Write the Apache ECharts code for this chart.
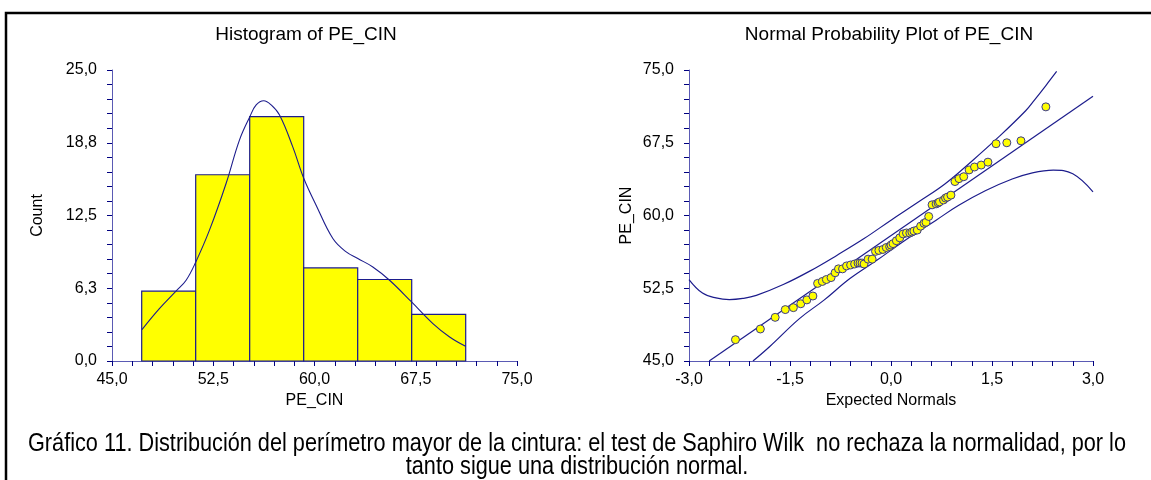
<!DOCTYPE html>
<html><head><meta charset="utf-8">
<script src="https://cdn.jsdelivr.net/npm/echarts@6/dist/echarts.min.js"></script>
<style>html,body{margin:0;padding:0;background:#fff}#c{width:1151px;height:480px}</style>
</head><body><div id="c"></div>
<script>
// ---- Histogram data ----
const binStarts = [47.2, 51.2, 55.2, 59.2, 63.2, 67.2];
const binEnds   = [51.2, 55.2, 59.2, 63.2, 67.2, 71.2];
const counts    = [6, 16, 21, 8, 7, 4];
const densityX = [47.22, 48.51, 49.74, 50.49, 51.20, 52.22, 53.45, 54.44, 55.21, 55.68, 56.24, 56.79, 57.41, 58.39, 59.21, 60.12, 61.36, 62.35, 63.21, 64.32, 65.56, 67.19, 68.77, 70.01, 71.19];
const densityY = [2.7, 4.5, 6.0, 6.94, 8.49, 11.24, 15.25, 18.98, 20.99, 22.0, 22.36, 22.0, 21.13, 18.4, 15.68, 13.39, 10.52, 9.37, 8.80, 8.08, 6.94, 5.07, 3.21, 2.06, 1.26];
// ---- Normal probability plot data ----
const normX = [-2.31,-1.94,-1.72,-1.57,-1.45,-1.34,-1.25,-1.16,-1.09,-1.02,-0.96,-0.89,-0.83,-0.78,-0.72,-0.66,-0.60,-0.54,-0.49,-0.46,-0.43,-0.40,-0.34,-0.28,-0.23,-0.18,-0.12,-0.07,-0.02,0.00,0.03,0.08,0.13,0.18,0.23,0.28,0.31,0.34,0.39,0.44,0.49,0.52,0.56,0.61,0.67,0.70,0.72,0.78,0.81,0.84,0.89,0.95,1.01,1.08,1.16,1.24,1.34,1.44,1.56,1.72,1.93,2.30];
const normY = [47.2,48.3,49.5,50.3,50.5,50.9,51.3,51.7,53.0,53.2,53.4,53.6,54.1,54.5,54.5,54.8,54.9,55.0,55.1,55.1,55.1,55.0,55.5,55.5,56.3,56.4,56.5,56.7,56.8,56.95,57.1,57.4,57.7,58.1,58.2,58.2,58.3,58.4,58.5,58.9,59.2,59.3,59.9,61.1,61.2,61.3,61.4,61.6,61.8,61.9,62.1,63.5,63.8,64.0,64.7,65.0,65.2,65.5,67.4,67.5,67.7,71.2];
const fitX = [-2.70, 3.0];
const fitY = [45.0, 72.3];
const upperX = [-3.0, -2.8, -2.6, -2.4, -2.2, -2.0, -1.6, -1.2, -0.8, -0.4, 0.0, 0.4, 0.8, 1.2, 1.6, 2.0, 2.13, 2.3, 2.46];
const upperY = [53.4, 52.0, 51.5, 51.33, 51.45, 51.76, 52.88, 54.29, 55.91, 57.62, 59.52, 61.36, 63.25, 65.6, 68.1, 70.8, 71.9, 73.4, 74.85];
const lowerX = [-2.05, -1.8, -1.36, -1.0, -0.61, -0.2, 0.2, 0.67, 1.0, 1.4, 1.8, 2.1, 2.41, 2.7, 3.0];
const lowerY = [45.0, 46.5, 49.37, 51.25, 53.5, 55.43, 57.4, 59.52, 61.03, 62.55, 63.76, 64.4, 64.68, 64.3, 62.44];
// ---- Text ----
const histTitle = 'Histogram of PE_CIN';
const normTitle = 'Normal Probability Plot of PE_CIN';
const histXName = 'PE_CIN', histYName = 'Count';
const normXName = 'Expected Normals', normYName = 'PE_CIN';
const captionLines = ['Gráfico 11. Distribución del perímetro mayor de la cintura: el test de Saphiro Wilk  no rechaza la normalidad, por lo', 'tanto sigue una distribución normal.'];

const FONT = '"Liberation Sans", Arial, sans-serif';
const NAVY = '#1c1c8c';
const AXIS = '#5a5ab4';
const fmt = v => v.toFixed(1).replace('.', ',');

function valAxis(o, labelMargin) {
  return Object.assign({
    type: 'value',
    axisLine: { show: true, onZero: false, lineStyle: { color: AXIS, width: 1 } },
    axisTick: { show: true, inside: false, length: 5, lineStyle: { color: '#000080' } },
    minorTick: { show: true, splitNumber: 5, length: 5, lineStyle: { color: '#000080' } },
    splitLine: { show: false },
    axisLabel: { color: '#000', fontFamily: FONT, fontSize: 16, formatter: fmt, margin: labelMargin, showMinLabel: true, showMaxLabel: true },
    nameLocation: 'middle',
    nameTextStyle: { color: '#000', fontFamily: FONT, fontSize: 16 }
  }, o);
}

const ctx = document.createElement('canvas').getContext('2d');
const capFont = 26;
ctx.font = capFont + 'px "Liberation Sans"';
const capScale = 1098 / ctx.measureText(captionLines[0]).width;

const chart = echarts.init(document.getElementById('c'), null, { renderer: 'canvas' });
chart.setOption({
  animation: false,
  backgroundColor: '#fff',
  grid: [
    { left: 112, top: 70, width: 405, height: 291, containLabel: false, outerBoundsMode: 'none' },
    { left: 689, top: 70, width: 404, height: 291, containLabel: false, outerBoundsMode: 'none' }
  ],
  xAxis: [
    valAxis({ gridIndex: 0, min: 45, max: 75, interval: 7.5, name: histXName, nameGap: 27 }, 11),
    valAxis({ gridIndex: 1, min: -3, max: 3, interval: 1.5, name: normXName, nameGap: 27 }, 11)
  ],
  yAxis: [
    valAxis({ gridIndex: 0, min: 0, max: 25, interval: 6.25, name: histYName, nameGap: 66 }, 15),
    valAxis({ gridIndex: 1, min: 45, max: 75, interval: 7.5, name: normYName, nameGap: 54 }, 15)
  ],
  series: [
    {
      type: 'custom', xAxisIndex: 0, yAxisIndex: 0, z: 2,
      data: counts.map((c, i) => [binStarts[i], binEnds[i], c]),
      encode: { x: [0, 1], y: 2 },
      renderItem: (params, api) => {
        const p0 = api.coord([api.value(0), 0]);
        const p1 = api.coord([api.value(1), api.value(2)]);
        return { type: 'rect', shape: { x: p0[0], y: p1[1], width: p1[0] - p0[0], height: p0[1] - p1[1] },
                 style: { fill: '#ffff00', stroke: NAVY, lineWidth: 1.2 } };
      }
    },
    {
      type: 'line', xAxisIndex: 0, yAxisIndex: 0, z: 3, smooth: 0.4, showSymbol: false, symbol: 'none',
      data: densityX.map((x, i) => [x, densityY[i]]),
      lineStyle: { color: NAVY, width: 1.1 }
    },
    {
      type: 'line', xAxisIndex: 1, yAxisIndex: 1, z: 2, symbol: 'none',
      data: fitX.map((x, i) => [x, fitY[i]]),
      lineStyle: { color: NAVY, width: 1.2 }
    },
    {
      type: 'line', xAxisIndex: 1, yAxisIndex: 1, z: 2, symbol: 'none', smooth: 0.4,
      data: upperX.map((x, i) => [x, upperY[i]]),
      lineStyle: { color: NAVY, width: 1.2 }
    },
    {
      type: 'line', xAxisIndex: 1, yAxisIndex: 1, z: 2, symbol: 'none', smooth: 0.4,
      data: lowerX.map((x, i) => [x, lowerY[i]]),
      lineStyle: { color: NAVY, width: 1.2 }
    },
    {
      type: 'scatter', xAxisIndex: 1, yAxisIndex: 1, z: 4, symbolSize: 8,
      data: normX.map((x, i) => [x, normY[i]]),
      itemStyle: { color: '#ffff00', borderColor: '#3a3a8a', borderWidth: 1, opacity: 1 }
    }
  ],
  graphic: [
    { type: 'rect', silent: true, shape: { x: 6, y: 13, width: 1160, height: 480 }, style: { fill: 'none', stroke: '#000', lineWidth: 2.5 } },
    { type: 'text', x: 306, y: 35, style: { text: histTitle, fontFamily: FONT, fontSize: 19, fill: '#000', align: 'center', verticalAlign: 'middle' } },
    { type: 'text', x: 889, y: 35, style: { text: normTitle, fontFamily: FONT, fontSize: 19, fill: '#000', align: 'center', verticalAlign: 'middle' } },
    { type: 'text', x: 577, y: 444, scaleX: capScale, style: { text: captionLines[0], fontFamily: FONT, fontSize: capFont, fill: '#000', align: 'center', verticalAlign: 'middle' } },
    { type: 'text', x: 577, y: 467, scaleX: capScale, style: { text: captionLines[1], fontFamily: FONT, fontSize: capFont, fill: '#000', align: 'center', verticalAlign: 'middle' } }
  ]
});
</script></body></html>
